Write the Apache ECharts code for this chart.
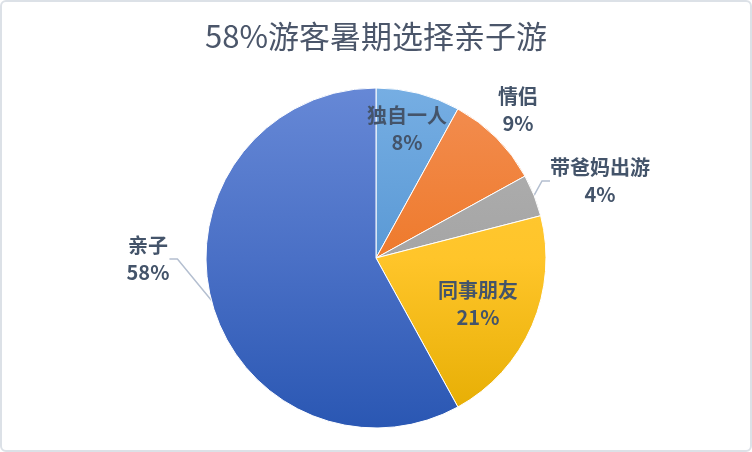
<!DOCTYPE html>
<html>
<head>
<meta charset="utf-8">
<script src="https://cdn.jsdelivr.net/npm/echarts@6/dist/echarts.min.js"></script>
<style>
html,body{margin:0;padding:0;background:#fff;}
#wrap{position:relative;width:752px;height:452px;}
#chart{position:absolute;left:0;top:0;width:752px;height:452px;}
#frame{position:absolute;left:0;top:0;width:752px;height:452px;box-sizing:border-box;border:2px solid #DCE1E7;border-radius:6px;pointer-events:none;}
</style>
</head>
<body>
<div id="wrap"><div id="chart"></div><div id="frame"></div></div>
<script>
const titleText = '58%游客暑期选择亲子游';
const categories = ['独自一人', '情侣', '带爸妈出游', '同事朋友', '亲子'];
const values = [8, 9, 4, 21, 58];

const topColors = ['#76AEE3', '#F38E52', '#B2B2B2', '#FFCB3A', '#6688D6'];
const midColors = ['#5A99D5', '#EE7A2C', '#A5A5A5', '#FFC52A', '#4A70C6'];
const bottomColors = ['#3C82C8', '#E06810', '#959595', '#E4AC00', '#2A57B3'];
const labelPos = [[407, 129], [518, 110], [600, 181], [478, 304], [148, 259]];
const showLine = [false, false, true, false, true];

const chart = echarts.init(document.getElementById('chart'));
const grad = (i) => new echarts.graphic.LinearGradient(0, 88, 0, 428, [
  {offset: 0, color: topColors[i]}, {offset: 0.5, color: midColors[i]}, {offset: 1, color: bottomColors[i]}
], true);

chart.setOption({
  animation: false,
  title: {
    text: titleText, left: 'center', top: 16,
    textStyle: {fontFamily: '"Noto Sans CJK SC", sans-serif', fontSize: 31, fontWeight: 'normal', color: '#4B566A'}
  },
  series: [{
    type: 'pie',
    center: [376, 258],
    radius: 170,
    startAngle: 90,
    clockwise: true,
    avoidLabelOverlap: false,
    itemStyle: {borderColor: '#ffffff', borderWidth: 1},
    label: {
      show: true,
      position: 'outside',
      formatter: '{b}\n{d}%',
      fontFamily: '"Noto Sans CJK SC", sans-serif',
      fontSize: 20, fontWeight: 'bold', color: '#44546A', lineHeight: 27
    },
    labelLine: {show: true, length: 12, length2: 8, lineStyle: {color: '#B4BFD0', width: 1.5}},
    labelLayout: (p) => ({x: labelPos[p.dataIndex][0], y: labelPos[p.dataIndex][1], align: 'center', verticalAlign: 'middle'}),
    data: categories.map((c, i) => ({
      name: c, value: values[i],
      itemStyle: {color: grad(i)},
      labelLine: {show: showLine[i]}
    }))
  }]
});
</script>
</body>
</html>
